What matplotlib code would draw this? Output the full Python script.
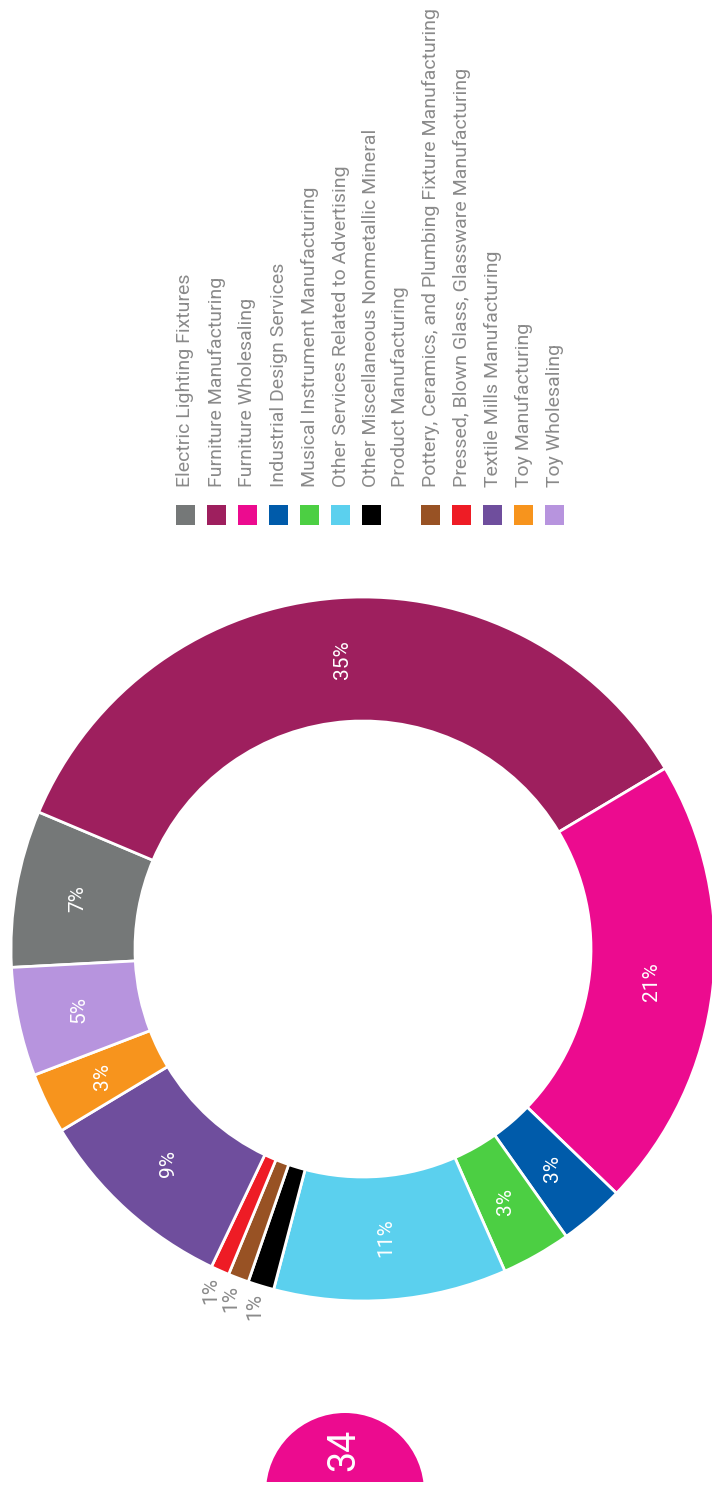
import numpy as np
import matplotlib
matplotlib.use("Agg")
import matplotlib.pyplot as plt
from matplotlib.patches import Circle, Rectangle

plt.rcParams['font.family'] = ['Roboto', 'DejaVu Sans']

categories = ["Electric Lighting Fixtures",
              "Furniture Manufacturing",
              "Furniture Wholesaling",
              "Industrial Design Services",
              "Musical Instrument Manufacturing",
              "Other Services Related to Advertising",
              "Other Miscellaneous Nonmetallic Mineral\nProduct Manufacturing",
              "Pottery, Ceramics, and Plumbing Fixture Manufacturing",
              "Pressed, Blown Glass, Glassware Manufacturing",
              "Textile Mills Manufacturing",
              "Toy Manufacturing",
              "Toy Wholesaling"]
shares = [7.2, 35.1, 20.8, 3.0, 3.2, 10.7, 1.2, 0.95, 0.85, 9.3, 2.8, 5.0]
colors = ["#757878", "#9e1f5e", "#ec0b8f", "#005baa", "#4ccf43", "#5bd0ee",
          "#000000", "#985224", "#ee1c25", "#6f4e9d", "#f7941d", "#b794de"]
page_number = "34"

W, H = 712, 1486
fig = plt.figure(figsize=(W / 100, H / 100), dpi=100)
ax = fig.add_axes([0, 0, 1, 1])

cx, cy = 363, H - 949
r_out, r_in = 352, 228
wedges, _ = ax.pie(shares, colors=colors, startangle=183, counterclock=False,
                   center=(cx, cy), radius=r_out,
                   wedgeprops=dict(width=r_out - r_in, edgecolor="white", linewidth=2))

total = sum(shares)
for w, v in zip(wedges, shares):
    ang = np.deg2rad((w.theta1 + w.theta2) / 2)
    pct = f"{round(v / total * 100):.0f}%"
    if v < 2:
        r = 374
        col = "#8a8a8a"
    else:
        r = (r_out + r_in) / 2
        col = "white"
    ax.text(cx + r * np.cos(ang), cy + r * np.sin(ang), pct, rotation=90,
            ha="center", va="center", fontsize=15, color=col)

# legend, drawn rotated
x = 185.5
for name, c in zip(categories, colors):
    ax.add_patch(Rectangle((x - 9.5, H - 525), 19, 20, color=c, lw=0))
    lines = name.split("\n")
    for j, ln in enumerate(lines):
        ax.text(x + j * 28, H - 487, ln, rotation=90, rotation_mode="anchor",
                ha="left", va="center", fontsize=14, color="#8a8a8a")
    x += 31 + 28 * (len(lines) - 1)

# page badge
badge = Circle((345, H - 1492), 79, color="#ec0b8f", lw=0)
ax.add_patch(badge)
badge.set_clip_path(Rectangle((0, H - 1482), W, 200, transform=ax.transData))
ax.text(344, H - 1450, page_number, rotation=90, ha="center", va="center",
        fontsize=27, color="white")

ax.set_xlim(0, W)
ax.set_ylim(0, H)
ax.set_aspect("auto")
ax.axis("off")
fig.savefig("out.png", dpi=100)
